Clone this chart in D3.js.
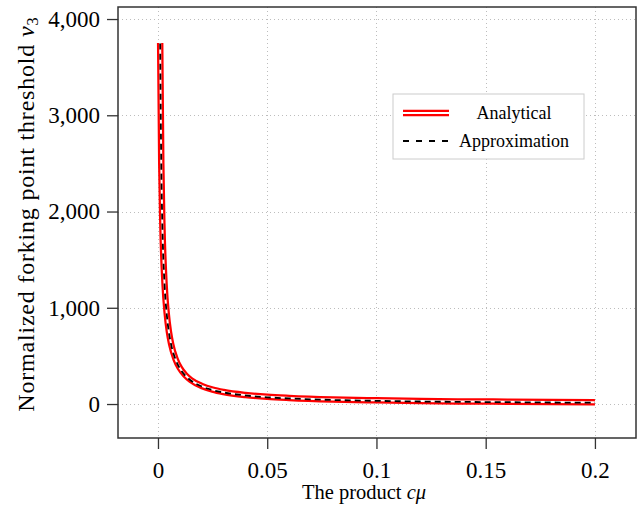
<!DOCTYPE html>
<html><head><meta charset="utf-8">
<script src="https://cdn.jsdelivr.net/npm/d3@7"></script>
<style>
body{margin:0;background:#fff;}
text{font-family:"Liberation Serif","Times New Roman",serif;fill:#000;}
</style></head>
<body><svg id="c" width="638" height="508"></svg>
<script>
const xTicks = [0, 0.05, 0.1, 0.15, 0.2];
const xTickLabels = ["0", "0.05", "0.1", "0.15", "0.2"];
const yTicks = [0, 1000, 2000, 3000, 4000];
const yTickLabels = ["0", "1,000", "2,000", "3,000", "4,000"];
const cmu = [0.001, 0.0015, 0.002, 0.003, 0.004, 0.005, 0.006, 0.008, 0.01, 0.0125, 0.015, 0.02, 0.025, 0.03, 0.04, 0.05, 0.06, 0.08, 0.1, 0.12, 0.14, 0.16, 0.18, 0.2];
const analytical = [3750, 2500, 1875, 1250, 940, 750, 625, 470, 375, 300, 250, 188, 150, 125, 94, 75, 63, 47, 38, 31, 27, 24, 21, 19];
const approximation = [3745, 2495, 1870, 1245, 935, 745, 620, 465, 370, 295, 245, 183, 145, 120, 89, 70, 58, 42, 33, 26, 22, 19, 16, 14];
const seriesNames = ["Analytical", "Approximation"];

const svg = d3.select("#c");
const L = 118, R = 636, T = 7, B = 438;
const x = d3.scaleLinear().domain([-0.0183, 0.2188]).range([L, R]);
const y = d3.scaleLinear().domain([-353, 4125]).range([B, T]);

// grid
const grid = svg.append("g").attr("stroke", "#bdbdbd").attr("stroke-width", 1).attr("stroke-dasharray", "1,3");
grid.selectAll(".gx").data(xTicks).enter().append("line")
  .attr("x1", d => Math.round(x(d)) + 0.5).attr("x2", d => Math.round(x(d)) + 0.5).attr("y1", T).attr("y2", B);
grid.selectAll(".gy").data(yTicks).enter().append("line")
  .attr("y1", d => Math.round(y(d)) + 0.5).attr("y2", d => Math.round(y(d)) + 0.5).attr("x1", L).attr("x2", R);

// curves
svg.append("clipPath").attr("id", "clip").append("rect").attr("x", L).attr("y", T).attr("width", R - L).attr("height", B - T);
const line = d3.line().x(d => x(d[0])).y(d => y(d[1])).curve(d3.curveMonotoneX);
const aData = cmu.map((c, i) => [c, analytical[i]]);
const pData = cmu.map((c, i) => [c, approximation[i]]);
const g = svg.append("g").attr("clip-path", "url(#clip)");
g.append("path").datum(aData).attr("d", line).attr("fill", "none").attr("stroke", "#ff0000").attr("stroke-width", 6.5);
g.append("path").datum(aData).attr("d", line).attr("fill", "none").attr("stroke", "#fff").attr("stroke-width", 2);
g.append("path").datum(pData).attr("d", line).attr("fill", "none").attr("stroke", "#000").attr("stroke-width", 1.8).attr("stroke-dasharray", "6,4");

// axes
const xAxis = d3.axisBottom(x).tickValues(xTicks).tickFormat((d, i) => xTickLabels[i]).tickSizeInner(11).tickSizeOuter(0).tickPadding(8);
const yAxis = d3.axisLeft(y).tickValues(yTicks).tickFormat((d, i) => yTickLabels[i]).tickSizeInner(11).tickSizeOuter(0).tickPadding(7);
const gx = svg.append("g").attr("transform", `translate(0,${B})`).call(xAxis);
const gy = svg.append("g").attr("transform", `translate(${L},0)`).call(yAxis);
[gx, gy].forEach(a => {
  a.select(".domain").remove();
  a.selectAll(".tick line").attr("stroke", "#333").attr("stroke-width", 1.3);
  a.selectAll("text").style("font-family", '"Liberation Serif",serif').style("font-size", "23px").attr("fill", "#000");
});
gx.selectAll("text").attr("dy", "0.9em");

// frame
svg.append("rect").attr("x", L).attr("y", T).attr("width", R - L).attr("height", B - T)
  .attr("fill", "none").attr("stroke", "#333").attr("stroke-width", 1.5);

// axis labels
const xl = svg.append("text").attr("x", 364).attr("y", 499).attr("text-anchor", "middle").style("font-size", "20.5px");
xl.append("tspan").text("The product ");
xl.append("tspan").style("font-style", "italic").text("cμ");
const yl = svg.append("text").attr("transform", "translate(34,214) rotate(-90)").attr("text-anchor", "middle")
  .style("font-size", "24px").style("letter-spacing", "0.8px");
yl.append("tspan").text("Normalized forking point threshold ");
yl.append("tspan").style("font-style", "italic").text("v");
yl.append("tspan").attr("dy", 4).style("font-size", "17px").text("3");

// legend
const lg = svg.append("g");
lg.append("rect").attr("x", 393).attr("y", 94).attr("width", 191).attr("height", 65).attr("fill", "#fff").attr("stroke", "#ccc").attr("stroke-width", 1);
const ly = [113, 141];
lg.append("line").attr("x1", 403).attr("x2", 449).attr("y1", ly[0]).attr("y2", ly[0]).attr("stroke", "#f00").attr("stroke-width", 6.5);
lg.append("line").attr("x1", 403).attr("x2", 449).attr("y1", ly[0]).attr("y2", ly[0]).attr("stroke", "#fff").attr("stroke-width", 2);
lg.append("line").attr("x1", 403).attr("x2", 449).attr("y1", ly[1]).attr("y2", ly[1]).attr("stroke", "#000").attr("stroke-width", 1.8).attr("stroke-dasharray", "6,7");
lg.append("text").attr("x", 514).attr("y", ly[0] + 6).attr("text-anchor", "middle").style("font-size", "18px").text(seriesNames[0]);
lg.append("text").attr("x", 514).attr("y", ly[1] + 6).attr("text-anchor", "middle").style("font-size", "18px").text(seriesNames[1]);
</script></body></html>
